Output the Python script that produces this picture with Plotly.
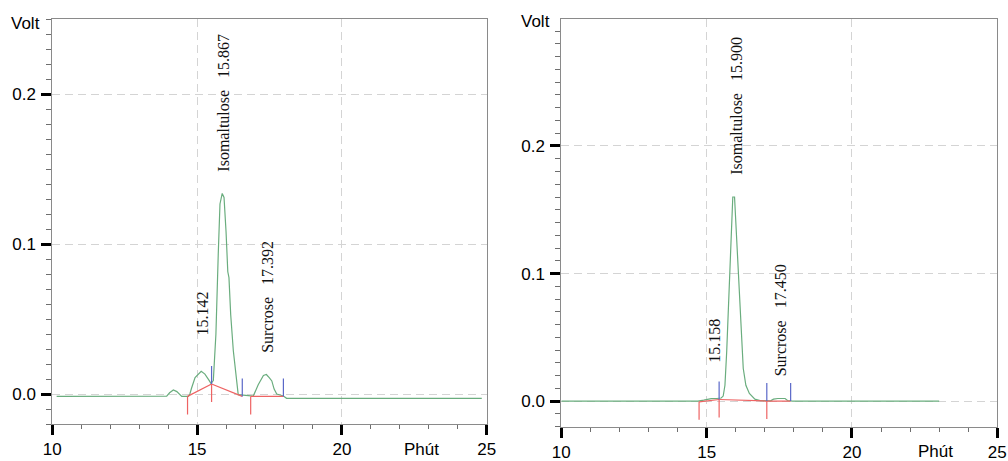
import plotly.graph_objects as go

# ---- Chromatogram A (left) ----
A_TIME = [10.15, 13.95, 14.05, 14.18, 14.30, 14.47, 14.70, 14.75, 14.81, 14.93, 15.142, 15.27,
          15.42, 15.48, 15.56, 15.65, 15.73, 15.79, 15.867, 15.93, 16.00, 16.06, 16.10, 16.16,
          16.25, 16.37, 16.42, 16.94, 17.11, 17.29, 17.392, 17.49, 17.58, 17.66, 17.75, 17.98,
          18.09, 24.83]
A_VOLT = [-0.0016, -0.0014, 0.0008, 0.0027, 0.0016, -0.0016, -0.0016, 0.0, 0.004, 0.0109, 0.0151,
          0.0133, 0.0089, 0.0070, 0.0090, 0.040, 0.093, 0.1267, 0.1337, 0.131, 0.108, 0.0815,
          0.0776, 0.053, 0.029, 0.0089, -0.0004, -0.0014, 0.0062, 0.0124, 0.0130, 0.0109, 0.0087,
          0.0033, 0.0, -0.0013, -0.0029, -0.0029]

# peak labels: retention time, apex height, name
A_PEAK_T = [15.142, 15.867, 17.392]
A_PEAK_V = [0.0151, 0.1337, 0.0130]
A_PEAK_NAME = ["", "Isomaltulose", "Surcrose"]

# integration boundaries
A_BOUND_T = [14.67, 15.50, 16.56, 16.85, 17.98]
A_BOUND_V = [-0.0016, 0.0067, -0.0016, -0.0016, -0.0016]
A_BOUND_START = [True, True, False, True, False]
A_BOUND_END = [False, True, True, False, True]
A_BASE_SEGS = [(0, 1), (1, 2), (3, 4)]

# ---- Chromatogram B (right) ----
B_TIME = [10.0, 14.70, 14.90, 15.05, 15.158, 15.35, 15.50, 15.57, 15.63, 15.69, 15.78, 15.85,
          15.90, 15.96, 16.03, 16.15, 16.26, 16.35, 16.47, 16.66, 16.84, 17.20, 17.30, 17.450,
          17.70, 17.78, 17.95, 23.0]
B_VOLT = [0.0, 0.0, 0.0008, 0.0016, 0.0020, 0.0021, 0.0025, 0.0040, 0.0125, 0.0387, 0.091, 0.130,
          0.160, 0.160, 0.130, 0.083, 0.0256, 0.0125, 0.006, 0.0016, 0.0005, 0.0003, 0.0016,
          0.0021, 0.0021, 0.0005, 0.0, 0.0]

B_PEAK_T = [15.158, 15.900, 17.450]
B_PEAK_V = [0.0020, 0.160, 0.0021]
B_PEAK_NAME = ["", "Isomaltulose", "Surcrose"]

B_BOUND_T = [14.74, 15.43, 17.07, 17.89]
B_BOUND_V = [-0.0005, 0.0013, 0.0001, 0.0001]
B_BOUND_START = [True, True, True, False]
B_BOUND_END = [False, True, True, True]
B_BASE_SEGS = [(0, 1), (1, 2), (2, 3)]

X_MAJOR = 5
Y_MAJOR = 0.1

GREEN = "#6aad7e"
RED = "#ee6363"
BLUE = "#5a68c8"
AXIS_GRAY = "#8a8a8a"
MINOR_GRAY = "#6e6e6e"
GRID = "#d4d4d4"
SANS = "Liberation Sans, Arial, sans-serif"
SERIF = "Liberation Serif, Times New Roman, serif"

fig = go.Figure()
shapes = []
annotations = []


def add_panel(xref, yref, t, v, pk_t, pk_v, pk_name, bt, bv, bstart, bend, segs, xshift):
    fig.add_trace(go.Scatter(x=t, y=v, mode="lines", line=dict(color=GREEN, width=1.2),
                             xaxis=xref, yaxis=yref, hoverinfo="skip", showlegend=False))
    bx, by = [], []
    for a, b in segs:
        bx += [bt[a], bt[b], None]
        by += [bv[a], bv[b], None]
    fig.add_trace(go.Scatter(x=bx, y=by, mode="lines", line=dict(color=RED, width=1.2),
                             xaxis=xref, yaxis=yref, hoverinfo="skip", showlegend=False))
    for tt, vv, s, e in zip(bt, bv, bstart, bend):
        if s:
            shapes.append(dict(type="line", xref=xref, yref=yref, ysizemode="pixel",
                               yanchor=vv, x0=tt, x1=tt, y0=0, y1=-18,
                               line=dict(color=RED, width=1.2)))
        if e:
            shapes.append(dict(type="line", xref=xref, yref=yref, ysizemode="pixel",
                               yanchor=vv, x0=tt, x1=tt, y0=0, y1=18,
                               line=dict(color=BLUE, width=1.2)))
    for tt, vv, name in zip(pk_t, pk_v, pk_name):
        label = f"{tt:.3f}" if not name else f"{name}\u00a0\u00a0\u00a0{tt:.3f}"
        annotations.append(dict(x=tt, y=vv, xref=xref, yref=yref, text=label,
                                textangle=-90, showarrow=False, xanchor="center",
                                yanchor="bottom", yshift=34 if not name else 20,
                                xshift=xshift,
                                font=dict(family=SERIF, size=16, color="#111")))


add_panel("x", "y", A_TIME, A_VOLT, A_PEAK_T, A_PEAK_V, A_PEAK_NAME,
          A_BOUND_T, A_BOUND_V, A_BOUND_START, A_BOUND_END, A_BASE_SEGS, 1)
add_panel("x2", "y2", B_TIME, B_VOLT, B_PEAK_T, B_PEAK_V, B_PEAK_NAME,
          B_BOUND_T, B_BOUND_V, B_BOUND_START, B_BOUND_END, B_BASE_SEGS, 3)


def xaxis_cfg(domain, anchor):
    return dict(domain=domain, anchor=anchor, range=[10, 25], automargin=False,
                tickmode="linear", tick0=10, dtick=X_MAJOR,
                ticks="outside", ticklen=10, tickwidth=3, tickcolor="black",
                showline=True, linecolor=AXIS_GRAY, linewidth=1, mirror=True,
                showgrid=True, gridcolor=GRID, griddash="8px,5px", gridwidth=1,
                zeroline=False, ticklabelstandoff=0,
                tickfont=dict(family=SANS, size=17, color="black"),
                minor=dict(dtick=1, tick0=10, ticks="outside", ticklen=4,
                           tickcolor=MINOR_GRAY, tickwidth=1, showgrid=False))


def yaxis_cfg(domain, anchor, rng):
    return dict(domain=domain, anchor=anchor, range=rng, automargin=False,
                tickmode="linear", tick0=0, dtick=Y_MAJOR, tickformat=".1f",
                ticks="outside", ticklen=10, tickwidth=3, tickcolor="black",
                showline=True, linecolor=AXIS_GRAY, linewidth=1, mirror=True,
                showgrid=True, gridcolor=GRID, griddash="8px,5px", gridwidth=1,
                zeroline=False, ticklabelstandoff=2,
                tickfont=dict(family=SANS, size=17, color="black"),
                minor=dict(dtick=0.01, tick0=0, ticks="outside", ticklen=5,
                           tickcolor=MINOR_GRAY, tickwidth=1, showgrid=False))


W, H = 1008, 461
annotations += [
    dict(text="Volt", x=25.7 / W, y=1 - 23 / H, xref="paper", yref="paper", showarrow=False,
         xanchor="center", yanchor="middle", font=dict(family=SANS, size=17, color="black")),
    dict(text="Volt", x=535.8 / W, y=1 - 21.7 / H, xref="paper", yref="paper", showarrow=False,
         xanchor="center", yanchor="middle", font=dict(family=SANS, size=17, color="black")),
    dict(text="Phút", x=421.7 / W, y=1 - 449 / H, xref="paper", yref="paper", showarrow=False,
         xanchor="center", yanchor="middle", font=dict(family=SANS, size=17, color="black")),
    dict(text="Phút", x=935 / W, y=1 - 451 / H, xref="paper", yref="paper", showarrow=False,
         xanchor="center", yanchor="middle", font=dict(family=SANS, size=17, color="black")),
]

fig.update_layout(
    width=W, height=H,
    margin=dict(l=0, r=0, t=0, b=0, autoexpand=False),
    paper_bgcolor="white", plot_bgcolor="white",
    showlegend=False,
    xaxis=xaxis_cfg([52.3 / W, 486.7 / W], "y"),
    yaxis=yaxis_cfg([(H - 424) / H, (H - 19) / H], "x", [-0.02, 0.25]),
    xaxis2=xaxis_cfg([561.3 / W, 997.3 / W], "y2"),
    yaxis2=yaxis_cfg([(H - 426.7) / H, (H - 19) / H], "x2", [-0.02, 0.2995]),
    shapes=shapes,
    annotations=annotations,
)

fig.write_html("out.html")
